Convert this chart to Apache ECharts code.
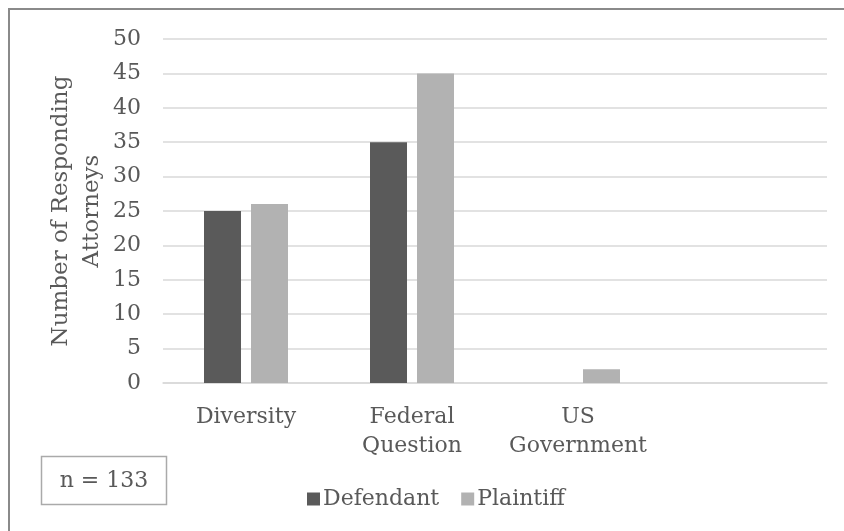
<!DOCTYPE html>
<html>
<head>
<meta charset="utf-8">
<script src="https://cdn.jsdelivr.net/npm/echarts@6/dist/echarts.min.js"></script>
<style>
  html, body { margin: 0; padding: 0; background: #ffffff; }
  #chart { width: 844px; height: 531px; }
</style>
</head>
<body>
<div id="chart"></div>
<script>
// Jurisdiction basis of responding attorneys' cases
const categories = ['Diversity', 'Federal\nQuestion', 'US\nGovernment', ''];
const defendantValues = [25, 35, 0, null];
const plaintiffValues = [26, 45, 2, null];
const seriesNames = ['Defendant', 'Plaintiff'];
const yAxisTitle = 'Number of Responding\nAttorneys';
const sampleNote = 'n = 133';

const FONT = '"DejaVu Serif", "Liberation Serif", serif';
const TEXT = '#595959';

const chart = echarts.init(document.getElementById('chart'), null, { renderer: 'canvas' });

chart.setOption({
  animation: false,
  backgroundColor: '#ffffff',
  textStyle: { fontFamily: FONT, color: TEXT },
  grid: { left: 163, right: 17, top: 39, bottom: 148, containLabel: false },
  legend: {
    data: seriesNames,
    left: 302,
    top: 483,
    itemWidth: 13,
    itemHeight: 13,
    itemGap: 22,
    icon: 'rect',
    textStyle: { fontFamily: FONT, fontSize: 22, color: TEXT, padding: [0, 0, 0, -2] }
  },
  xAxis: {
    type: 'category',
    data: categories,
    axisLine: { show: true, lineStyle: { color: '#d9d9d9', width: 1.5 } },
    axisTick: { show: false },
    axisLabel: {
      interval: 0,
      margin: 20,
      fontFamily: FONT,
      fontSize: 22,
      color: TEXT,
      lineHeight: 29
    }
  },
  yAxis: {
    type: 'value',
    min: 0,
    max: 50,
    interval: 5,
    name: yAxisTitle,
    nameLocation: 'middle',
    nameRotate: 90,
    nameGap: 55,
    nameMoveOverlap: false,
    nameTextStyle: { fontFamily: FONT, fontSize: 23, color: TEXT, lineHeight: 31 },
    axisLine: { show: false },
    axisTick: { show: false },
    axisLabel: { margin: 22, fontFamily: FONT, fontSize: 22, color: TEXT },
    splitLine: { lineStyle: { color: '#d9d9d9', width: 1.5 } }
  },
  series: [
    {
      name: seriesNames[0],
      type: 'bar',
      data: defendantValues,
      barWidth: 37,
      barGap: '27%',
      itemStyle: { color: '#5a5a5a' }
    },
    {
      name: seriesNames[1],
      type: 'bar',
      data: plaintiffValues,
      barWidth: 37,
      barGap: '27%',
      itemStyle: { color: '#b2b2b2' }
    }
  ],
  graphic: [
    // chart frame (top and left edges)
    {
      type: 'polyline',
      shape: { points: [[9, 540], [9, 9], [850, 9]] },
      style: { stroke: '#8a8a8a', lineWidth: 2, fill: null },
      silent: true
    },
    // sample size note
    {
      type: 'rect',
      shape: { x: 41.5, y: 456.5, width: 125, height: 48 },
      style: { stroke: '#aaaaaa', lineWidth: 1.5, fill: '#ffffff' },
      silent: true
    },
    {
      type: 'text',
      x: 104,
      y: 481,
      style: {
        text: sampleNote,
        fontFamily: FONT,
        fontSize: 22,
        fill: TEXT,
        textAlign: 'center',
        textVerticalAlign: 'middle'
      },
      silent: true
    }
  ]
});
</script>
</body>
</html>
